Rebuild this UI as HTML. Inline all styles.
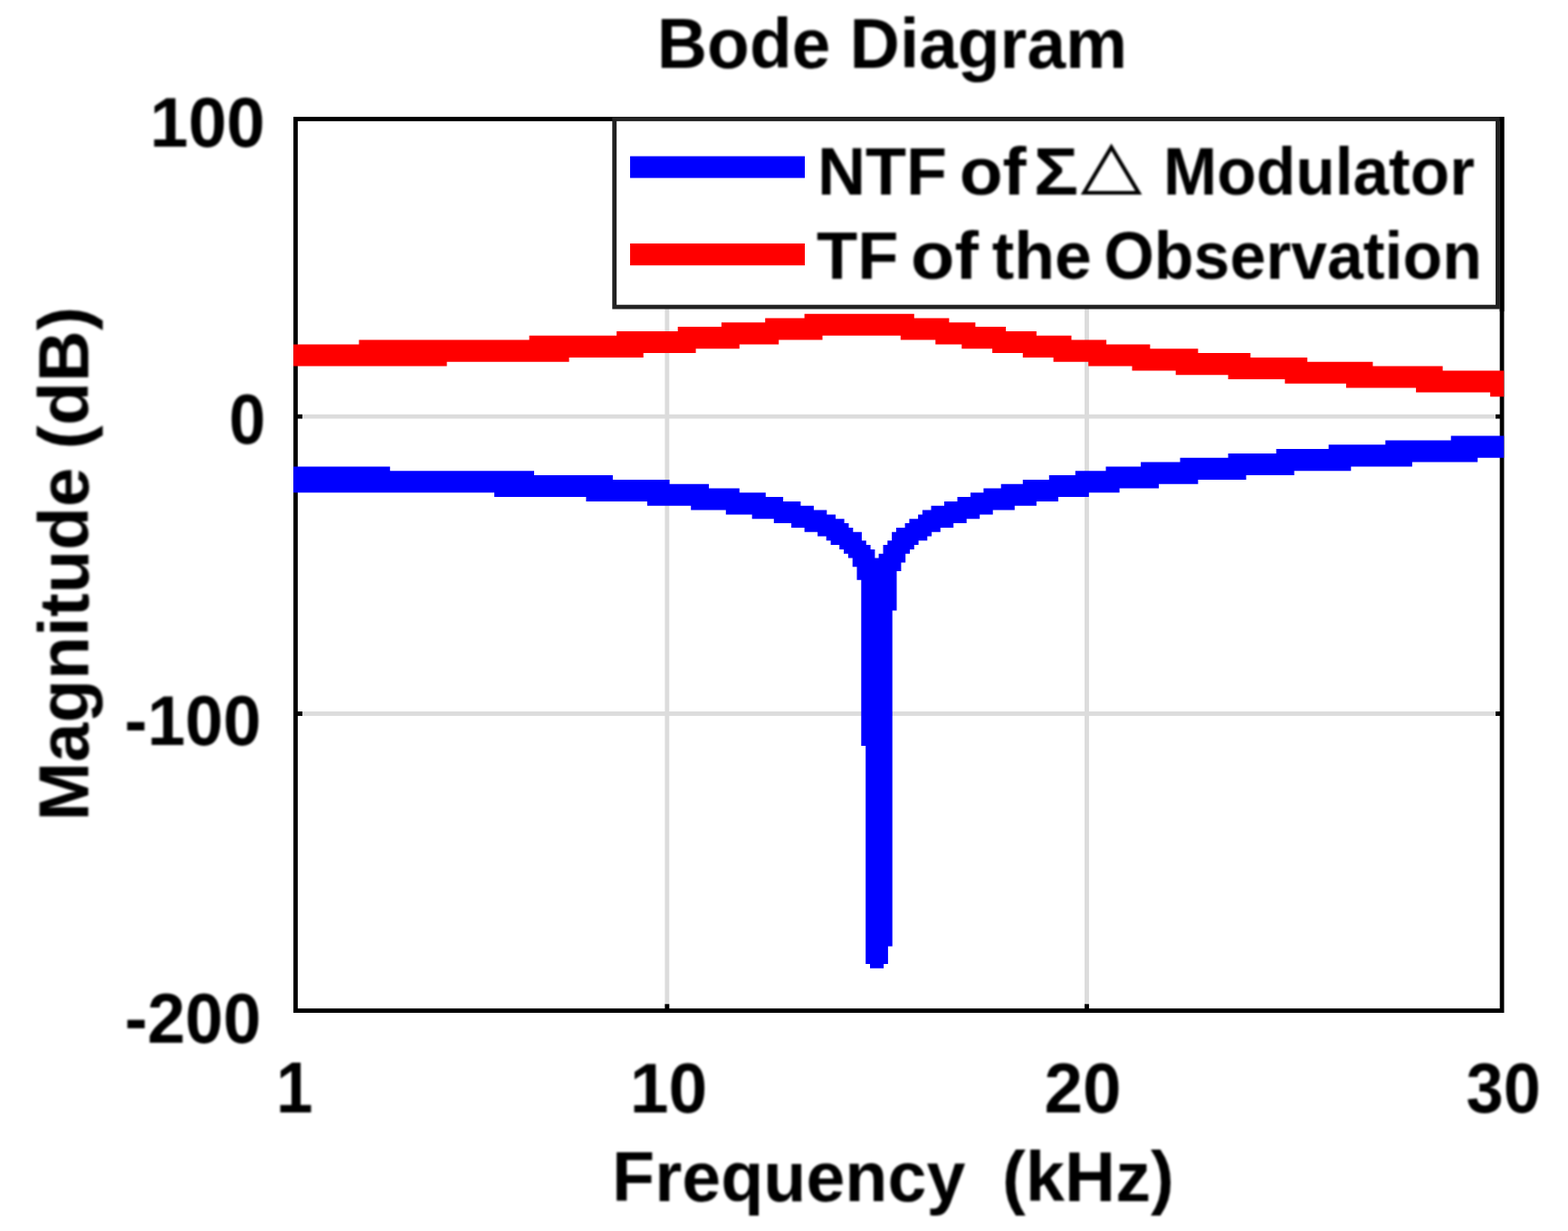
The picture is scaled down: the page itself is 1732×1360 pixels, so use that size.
<!DOCTYPE html>
<html lang="en"><head><meta charset="utf-8"><title>Bode Diagram</title>
<style>
html,body{margin:0;padding:0;background:#fff;}
body{width:1732px;height:1360px;overflow:hidden;}
svg{display:block;}
text{font-family:"Liberation Sans",sans-serif;font-weight:bold;fill:#000;}
.tri{font-family:"DejaVu Sans",sans-serif;font-weight:normal;}
</style></head><body>
<svg width="1732" height="1360" viewBox="0 0 1732 1360">
<rect x="0" y="0" width="1732" height="1360" fill="#fff"/>
<!-- grid -->
<g fill="#dcdcdc">
<rect x="734.4" y="134" width="4.9" height="980"/>
<rect x="1198" y="134" width="4.9" height="980"/>
<rect x="329" y="457.8" width="1328" height="4.7"/>
<rect x="329" y="786" width="1328" height="4.9"/>
</g>
<!-- axes box -->
<rect x="326.5" y="131.5" width="1332.55" height="985.05" fill="none" stroke="#000" stroke-width="4.8"/>
<!-- ticks -->
<g fill="#000">
<rect x="734.4" y="1109.3" width="4.9" height="6"/>
<rect x="1198" y="1109.3" width="4.9" height="6"/>
<rect x="328" y="457.8" width="6" height="4.7"/>
<rect x="328" y="786" width="6" height="4.9"/>
<rect x="1652" y="457.8" width="6" height="4.7"/>
<rect x="1652" y="786" width="6" height="4.9"/>
</g>
<!-- curves -->
<path id="blue" d="M324.1 515.4H430.8V544.3H324.1zM430.2 520.2H546.6V544.3H430.2zM546.0 520.2H590.0V549.1H546.0zM589.5 525.0H648.0V549.1H589.5zM647.4 525.0H676.9V554.0H647.4zM676.3 529.9H715.5V554.0H676.3zM714.9 529.9H739.6V558.8H714.9zM739.0 534.7H763.8V558.8H739.0zM763.2 534.7H783.0V563.6H763.2zM782.5 539.5H802.4V563.6H782.5zM801.8 539.5H816.8V568.4H801.8zM816.2 544.3H831.3V568.4H816.2zM830.7 544.3H845.8V573.2H830.7zM845.2 549.1H855.4V573.2H845.2zM854.8 549.1H865.1V578.1H854.8zM864.5 554.0H874.7V578.1H864.5zM874.1 554.0H884.4V582.9H874.1zM883.8 558.8H889.2V582.9H883.8zM888.6 558.8H898.9V587.7H888.6zM898.3 563.6H903.7V587.7H898.3zM903.1 563.6H913.3V592.5H903.1zM912.7 568.4H918.1V597.3H912.7zM917.6 568.4H923.0V602.1H917.6zM922.4 573.2H927.8V602.1H922.4zM927.2 573.2H932.6V607.0H927.2zM932.0 578.1H937.5V611.8H932.0zM936.9 582.9H942.3V616.6H936.9zM941.7 587.7H947.1V626.2H941.7zM946.5 587.7H951.9V640.7H946.5zM951.3 597.3H956.8V823.9H951.3zM956.2 602.1H961.6V1064.9H956.2zM961.0 607.0H966.4V1069.7H961.0zM965.8 616.6H971.2V1069.7H965.8zM970.6 611.8H976.1V1069.7H970.6zM975.5 602.1H980.9V1064.9H975.5zM980.3 597.3H985.7V1045.6H980.3zM985.1 587.7H990.5V674.5H985.1zM989.9 582.9H995.4V631.1H989.9zM994.8 582.9H1000.2V621.4H994.8zM999.6 578.1H1005.0V611.8H999.6zM1004.4 573.2H1009.8V607.0H1004.4zM1009.2 573.2H1014.6V602.1H1009.2zM1014.1 568.4H1019.5V597.3H1014.1zM1018.9 563.6H1024.3V597.3H1018.9zM1023.7 563.6H1029.1V592.5H1023.7zM1028.5 558.8H1038.8V587.7H1028.5zM1038.2 558.8H1043.6V582.9H1038.2zM1043.0 554.0H1053.2V582.9H1043.0zM1052.7 554.0H1058.1V578.1H1052.7zM1057.5 549.1H1067.7V578.1H1057.5zM1067.1 549.1H1072.5V573.2H1067.1zM1072.0 544.3H1082.2V573.2H1072.0zM1081.6 544.3H1087.0V568.4H1081.6zM1086.4 539.5H1096.7V568.4H1086.4zM1096.1 539.5H1106.3V563.6H1096.1zM1105.7 534.7H1120.8V563.6H1105.7zM1120.2 534.7H1130.4V558.8H1120.2zM1129.8 529.9H1144.9V558.8H1129.8zM1144.3 529.9H1159.4V554.0H1144.3zM1158.8 525.0H1169.0V554.0H1158.8zM1168.5 525.0H1188.3V549.1H1168.5zM1187.8 520.2H1202.8V549.1H1187.8zM1202.2 520.2H1222.1V544.3H1202.2zM1221.5 515.4H1236.6V544.3H1221.5zM1236.0 515.4H1260.7V539.5H1236.0zM1260.1 510.6H1280.0V539.5H1260.1zM1279.4 510.6H1304.1V534.7H1279.4zM1303.5 505.8H1323.4V534.7H1303.5zM1322.8 505.8H1357.2V529.9H1322.8zM1356.6 500.9H1376.5V529.9H1356.6zM1375.9 500.9H1410.3V525.0H1375.9zM1409.7 496.1H1429.6V525.0H1409.7zM1429.0 496.1H1468.2V520.2H1429.0zM1467.6 491.3H1492.3V520.2H1467.6zM1491.7 491.3H1530.9V515.4H1491.7zM1530.3 486.5H1559.9V515.4H1530.3zM1559.3 486.5H1603.3V510.6H1559.3zM1602.7 481.6H1632.2V510.6H1602.7zM1631.7 481.6H1661.2V505.8H1631.7z" fill="#0000ff"/>
<path id="red" d="M324.1 380.4H397.1V404.5H324.1zM396.5 375.6H493.6V404.5H396.5zM493.0 375.6H585.2V399.7H493.0zM584.6 370.8H628.6V399.7H584.6zM628.1 370.8H681.7V394.9H628.1zM681.1 366.0H710.7V394.9H681.1zM710.1 366.0H749.3V390.1H710.1zM748.7 361.1H768.6V390.1H748.7zM768.0 361.1H797.5V385.2H768.0zM796.9 356.3H816.8V385.2H796.9zM816.2 356.3H845.8V380.4H816.2zM845.2 351.5H860.2V380.4H845.2zM859.7 351.5H889.2V375.6H859.7zM888.6 346.7H908.5V375.6H888.6zM907.9 346.7H995.4V370.8H907.9zM994.8 346.7H1009.8V375.6H994.8zM1009.2 351.5H1033.9V375.6H1009.2zM1033.3 351.5H1048.4V380.4H1033.3zM1047.8 356.3H1062.9V380.4H1047.8zM1062.3 356.3H1077.4V385.2H1062.3zM1076.8 361.1H1096.7V385.2H1076.8zM1096.1 361.1H1111.1V390.1H1096.1zM1110.5 366.0H1130.4V390.1H1110.5zM1129.8 366.0H1144.9V394.9H1129.8zM1144.3 370.8H1164.2V394.9H1144.3zM1163.6 370.8H1183.5V399.7H1163.6zM1182.9 375.6H1202.8V399.7H1182.9zM1202.2 375.6H1222.1V404.5H1202.2zM1221.5 380.4H1251.1V404.5H1221.5zM1250.5 380.4H1270.4V409.4H1250.5zM1269.8 385.2H1299.3V409.4H1269.8zM1298.7 385.2H1323.4V414.2H1298.7zM1322.8 390.1H1357.2V414.2H1322.8zM1356.6 390.1H1381.3V419.0H1356.6zM1380.8 394.9H1419.9V419.0H1380.8zM1419.3 394.9H1444.1V423.8H1419.3zM1443.5 399.7H1487.5V423.8H1443.5zM1486.9 399.7H1516.4V428.6H1486.9zM1515.8 404.5H1564.7V428.6H1515.8zM1564.1 404.5H1593.6V433.4H1564.1zM1593.0 409.4H1646.7V433.4H1593.0zM1646.1 409.4H1661.2V438.3H1646.1z" fill="#ff0000"/>
<!-- legend -->
<rect x="678.7" y="131.5" width="975.7" height="207.6" fill="#fff" stroke="#222" stroke-width="4.8"/>
<rect x="1656.7" y="129.1" width="4.7" height="215" fill="#000"/>
<rect x="696" y="172.6" width="193" height="24" fill="#0000ff"/>
<rect x="696" y="269" width="193" height="24.2" fill="#ff0000"/>
<!-- text -->
<defs><filter id="soft" x="-5%" y="-5%" width="110%" height="110%"><feGaussianBlur stdDeviation="1.3"/></filter></defs>
<g filter="url(#soft)">
<text id="title" font-size="76" transform="translate(0,74.50) scale(1,1.0250)"><tspan x="725.76" textLength="519.41" lengthAdjust="spacingAndGlyphs">Bode Diagram</tspan></text>
<text id="xlabel" font-size="76" transform="translate(0,1326.60) scale(1,1.0250)"><tspan x="676.12" textLength="390.23" lengthAdjust="spacingAndGlyphs">Frequency</tspan> <tspan x="1107.01" textLength="189.85" lengthAdjust="spacingAndGlyphs">(kHz)</tspan></text>
<text id="ylabel" font-size="76" transform="translate(97.2,0) rotate(-90) scale(1,1.025)"><tspan x="-907.04" textLength="390.39" lengthAdjust="spacingAndGlyphs">Magnitude</tspan> <tspan x="-496.14" textLength="157.21" lengthAdjust="spacingAndGlyphs">(dB)</tspan></text>
<text id="y100" font-size="76" transform="translate(0,161.68) scale(1,1.0222)"><tspan x="165.48" textLength="127.24" lengthAdjust="spacingAndGlyphs">100</tspan></text>
<text id="y0" font-size="76" transform="translate(0,489.98) scale(1,1.0241)"><tspan x="253.04" textLength="40.28" lengthAdjust="spacingAndGlyphs">0</tspan></text>
<text id="ym100" font-size="76" transform="translate(0,823.48) scale(1,1.0204)"><tspan x="137.63" textLength="150.77" lengthAdjust="spacingAndGlyphs">-100</tspan></text>
<text id="ym200" font-size="76" transform="translate(0,1151.68) scale(1,1.0241)"><tspan x="137.63" textLength="150.77" lengthAdjust="spacingAndGlyphs">-200</tspan></text>
<text id="x1" font-size="76" transform="translate(0,1229.00) scale(1,1.0442)"><tspan x="305.10" textLength="40.59" lengthAdjust="spacingAndGlyphs">1</tspan></text>
<text id="x10" font-size="76" transform="translate(0,1228.68) scale(1,1.0185)"><tspan x="695.84" textLength="85.55" lengthAdjust="spacingAndGlyphs">10</tspan></text>
<text id="x20" font-size="76" transform="translate(0,1228.68) scale(1,1.0185)"><tspan x="1153.58" textLength="85.09" lengthAdjust="spacingAndGlyphs">20</tspan></text>
<text id="x30" font-size="76" transform="translate(0,1228.68) scale(1,1.0185)"><tspan x="1619.56" textLength="82.19" lengthAdjust="spacingAndGlyphs">30</tspan></text>
<text id="lg1" font-size="72.5" transform="translate(0,215.4) scale(1,1.025)"><tspan x="902.92" textLength="143.16" lengthAdjust="spacingAndGlyphs">NTF</tspan> <tspan x="1059.65" textLength="74.04" lengthAdjust="spacingAndGlyphs">of</tspan> <tspan x="1141.68" textLength="49.58" lengthAdjust="spacingAndGlyphs">Σ</tspan><tspan class="tri" x="1193.50" dy="-9.00" font-size="72.04" textLength="68.19" lengthAdjust="spacingAndGlyphs">△</tspan> <tspan x="1284.89" textLength="344.04" lengthAdjust="spacingAndGlyphs" dy="9.00">Modulator</tspan></text>
<text id="lg2" font-size="72.5" transform="translate(0,307.70) scale(1,1.0250)"><tspan x="902.08" textLength="90.35" lengthAdjust="spacingAndGlyphs">TF</tspan> <tspan x="1006.02" textLength="74.76" lengthAdjust="spacingAndGlyphs">of</tspan> <tspan x="1095.69" textLength="110.10" lengthAdjust="spacingAndGlyphs">the</tspan> <tspan x="1219.14" textLength="417.86" lengthAdjust="spacingAndGlyphs">Observation</tspan></text>
</g>
</svg>
</body></html>
